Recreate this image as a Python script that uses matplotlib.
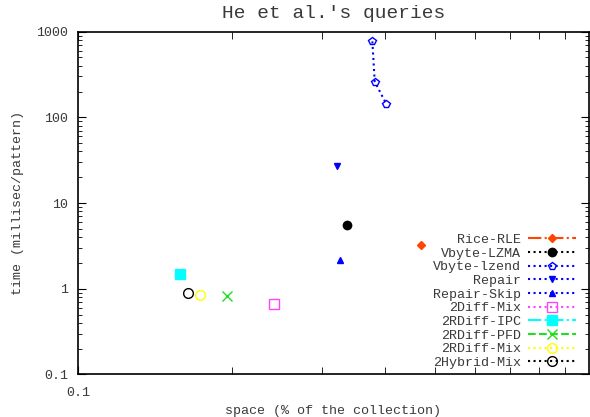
import numpy as np
import matplotlib
matplotlib.use('Agg')
import matplotlib.pyplot as plt
from matplotlib.ticker import LogLocator, NullFormatter, FixedLocator, FixedFormatter

plt.rcParams['font.family'] = ['Liberation Mono', 'DejaVu Sans Mono']
plt.rcParams['text.color'] = '#3a3a3a'
plt.rcParams['axes.labelcolor'] = '#3a3a3a'

# data (space %, time ms/pattern)
rice_x, rice_y = [0.470], [3.25]
lzma_x, lzma_y = [0.337], [5.6]
lzend_x, lzend_y = [0.377, 0.381, 0.401], [770, 262, 145]
repair_x, repair_y = [0.321], [27.4]
skip_x, skip_y = [0.326], [2.18]
diffmix_x, diffmix_y = [0.242], [0.67]
ipc_x, ipc_y = [0.1585], [1.5]
pfd_x, pfd_y = [0.1955], [0.82]
rmix_x, rmix_y = [0.1737], [0.845]
hyb_x, hyb_y = [0.1643], [0.89]

fig = plt.figure(figsize=(5.9, 4.17), dpi=100)
ax = fig.add_axes([0.132, 0.102, 0.866, 0.822])

ax.plot(rice_x, rice_y, color='#ff4500', ls='-.', marker='D', ms=4, label='Rice-RLE')
ax.plot(lzma_x, lzma_y, color='black', ls=':', marker='o', ms=6, label='Vbyte-LZMA')
ax.plot(lzend_x, lzend_y, color='blue', ls=':', marker='p', ms=6, mfc='none', label='Vbyte-lzend')
ax.plot(repair_x, repair_y, color='blue', ls=':', marker='v', ms=5, label='Repair')
ax.plot(skip_x, skip_y, color='blue', ls=':', marker='^', ms=5, label='Repair-Skip')
ax.plot(diffmix_x, diffmix_y, color='#ff44ff', ls=':', marker='s', ms=7, mfc='none', label='2Diff-Mix')
ax.plot(ipc_x, ipc_y, color='cyan', ls='-.', marker='s', ms=7, label='2RDiff-IPC')
ax.plot(pfd_x, pfd_y, color='#22dd22', ls='--', marker='x', ms=7, label='2RDiff-PFD')
ax.plot(rmix_x, rmix_y, color='yellow', ls=':', marker='o', ms=7, mfc='none', label='2RDiff-Mix')
ax.plot(hyb_x, hyb_y, color='black', ls=':', marker='o', ms=7, mfc='none', label='2Hybrid-Mix')

ax.set_xscale('log')
ax.set_yscale('log')
ax.set_xlim(0.1, 1.0)
ax.set_ylim(0.1, 1000)

ax.xaxis.set_major_locator(FixedLocator([0.1]))
ax.xaxis.set_major_formatter(FixedFormatter(['0.1']))
ax.xaxis.set_minor_locator(LogLocator(base=10, subs=np.arange(2, 10) * 0.1, numticks=20))
ax.xaxis.set_minor_formatter(NullFormatter())
ax.set_yticks([0.1, 1, 10, 100, 1000])
ax.set_yticklabels(['0.1', '1', '10', '100', '1000'])
ax.yaxis.set_minor_locator(LogLocator(base=10, subs=np.arange(2, 10), numticks=20))
ax.yaxis.set_minor_formatter(NullFormatter())

ax.tick_params(which='both', direction='in', top=True, right=True, labelsize=9.6,
               labelcolor='#3a3a3a')
ax.tick_params(which='major', length=6)
ax.tick_params(which='minor', length=3)
ax.tick_params(axis='x', which='minor', length=5)
ax.tick_params(axis='x', pad=9)
ax.tick_params(axis='y', pad=7)

for s in ax.spines.values():
    s.set_linewidth(1.2)

ax.set_title("He et al.'s queries", fontsize=14, pad=10)
ax.set_xlabel('space (% of the collection)', fontsize=9.6, labelpad=4)
ax.set_ylabel('time (millisec/pattern)', fontsize=9.6, labelpad=9)

ax.legend(loc='lower right', markerfirst=False, frameon=False, fontsize=9.6,
          handlelength=3.6, labelspacing=0.1, borderaxespad=0.0, handletextpad=0.5,
          bbox_to_anchor=(0.985, 0.0))

fig.savefig('out.png', dpi=100)
